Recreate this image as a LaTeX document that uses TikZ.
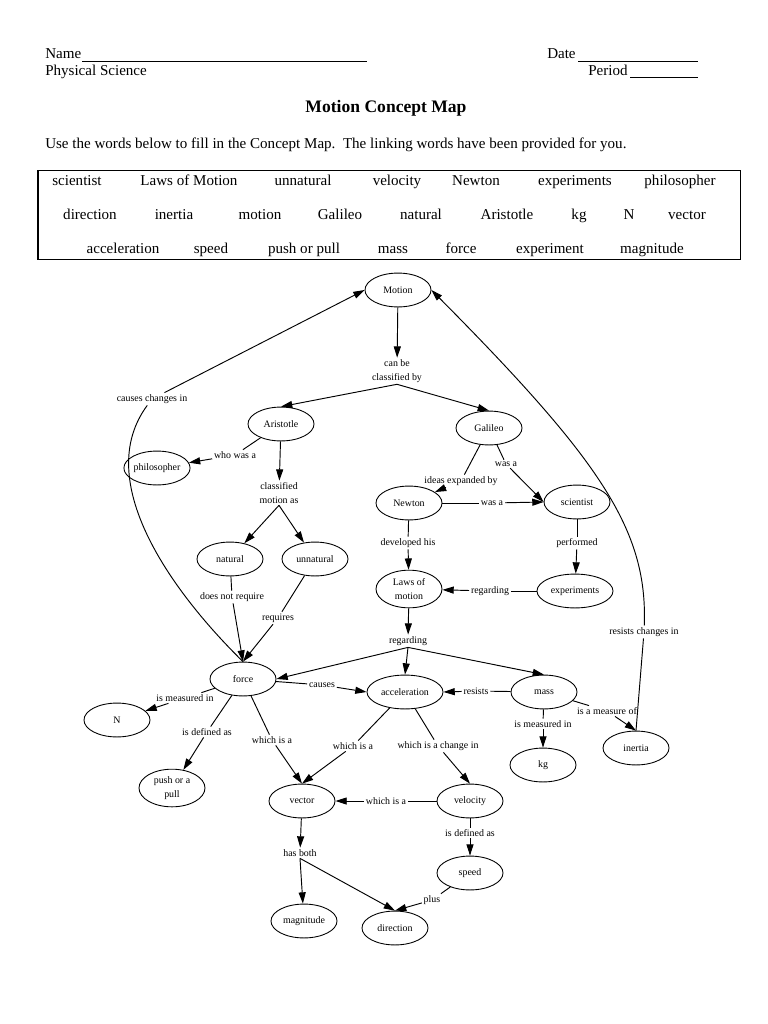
\documentclass[tikz,border=0pt]{standalone}
\usepackage{fontspec}
\setmainfont{Liberation Serif}
\usetikzlibrary{shapes.geometric,arrows.meta}
\begin{document}
\begin{tikzpicture}[x=0.797pt,y=-0.797pt,
 cn/.style={ellipse,draw,line width=0.7pt,minimum width=52.6pt,minimum height=27pt,inner sep=0pt,font=\fontsize{7.9}{11}\selectfont,align=center},
 wide/.style={minimum width=60.6pt},
 tall/.style={minimum height=30pt},
 lb/.style={inner sep=1.3pt,font=\fontsize{7.9}{11}\selectfont,align=center},
 ln/.style={line width=0.75pt},
 ar/.style={line width=0.75pt,-{Triangle[length=9pt,width=5.6pt]}},
 hd/.style={font=\fontsize{12}{14}\selectfont,inner sep=0pt,anchor=base west},
 wd/.style={font=\fontsize{12}{14}\selectfont,inner sep=0pt,anchor=base},
 ul/.style={line width=0.6pt}]
\fill[white] (0,0) rectangle (768,1024);
\useasboundingbox (0,0) rectangle (768,1024);
% header
\node[hd] (name) at (45,58) {Name};
\draw[ul] (82,61) -- (367,61);
\node[hd] (phys) at (45,75) {Physical Science};
\node[hd] (date) at (547,58) {Date};
\draw[ul] (578,61) -- (698,61);
\node[hd] (period) at (588,75) {Period};
\draw[ul] (630,77) -- (698,77);
\node[font=\fontsize{14}{16}\selectfont\bfseries,anchor=base,inner sep=0pt] (title) at (386,112) {Motion Concept Map};
\node[hd] (instr) at (45,148) {Use the words below to fill in the Concept Map.\hspace{0.5em}The linking words have been provided for you.};
% word box
\draw[line width=0.8pt] (38,170) rectangle (740,259);
\node[wd] (w1) at (77,185) {scientist};
\node[wd] (w2) at (189,185) {Laws of Motion};
\node[wd] (w3) at (303,185) {unnatural};
\node[wd] (w4) at (397,185) {velocity};
\node[wd] (w5) at (476,185) {Newton};
\node[wd] (w6) at (575,185) {experiments};
\node[wd] (w7) at (680,185) {philosopher};
\node[wd] (w8) at (90,219) {direction};
\node[wd] (w9) at (174,219) {inertia};
\node[wd] (w10) at (260,219) {motion};
\node[wd] (w11) at (340,219) {Galileo};
\node[wd] (w12) at (421,219) {natural};
\node[wd] (w13) at (507,219) {Aristotle};
\node[wd] (w14) at (579,219) {kg};
\node[wd] (w15) at (629,219) {N};
\node[wd] (w16) at (687,219) {vector};
\node[wd] (w17) at (123,253) {acceleration};
\node[wd] (w18) at (211,253) {speed};
\node[wd] (w19) at (304,253) {push or pull};
\node[wd] (w20) at (393,253) {mass};
\node[wd] (w21) at (461,253) {force};
\node[wd] (w22) at (550,253) {experiment};
\node[wd] (w23) at (652,253) {magnitude};
% concept nodes
\node[cn] (motion) at (398,290) {Motion};
\node[cn] (aristotle) at (281,424) {Aristotle};
\node[cn] (galileo) at (489,428) {Galileo};
\node[cn] (philosopher) at (157,468) {philosopher};
\node[cn] (newton) at (409,503) {Newton};
\node[cn] (scientist) at (577,502) {scientist};
\node[cn] (natural) at (230,559) {natural};
\node[cn] (unnatural) at (315,559) {unnatural};
\node[cn,tall] (laws) at (409,589) {Laws of\\motion};
\node[cn,wide] (experiments) at (575,591) {experiments};
\node[cn] (force) at (243,679) {force};
\node[cn,wide] (acceleration) at (405,692) {acceleration};
\node[cn] (mass) at (544,692) {mass};
\node[cn] (N) at (117,720) {N};
\node[cn] (kg) at (543,765) {kg};
\node[cn] (inertia) at (636,748) {inertia};
\node[cn,tall] (pushpull) at (172,788) {push or a\\pull};
\node[cn] (vector) at (302,801) {vector};
\node[cn] (velocity) at (470,801) {velocity};
\node[cn] (speed) at (470,873) {speed};
\node[cn] (magnitude) at (304,921) {magnitude};
\node[cn] (direction) at (395,928) {direction};
% linking labels
\node[lb] (lcause) at (152,399) {causes changes in};
\node[lb] (lclass) at (397,371) {can be\\classified by};
\node[lb] (lwho) at (235,455) {who was a};
\node[lb] (lcm) at (279,493) {classified\\motion as};
\node[lb] (lideas) at (461,481) {ideas expanded by};
\node[lb] (lwasg) at (506,464) {was a};
\node[lb] (lwasn) at (492,503) {was a};
\node[lb] (ldev) at (408,543) {developed his};
\node[lb] (lperf) at (577,543) {performed};
\node[lb] (lregexp) at (490,591) {regarding};
\node[lb] (lnot) at (232,597) {does not require};
\node[lb] (lreq) at (278,618) {requires};
\node[lb] (lresch) at (644,632) {resists changes in};
\node[lb] (lreg) at (408,641) {regarding};
\node[lb] (lcauses) at (322,685) {causes};
\node[lb] (lresists) at (476,691) {resists};
\node[lb] (lmeasN) at (185,698) {is measured in};
\node[lb] (lmeaskg) at (543,724) {is measured in};
\node[lb] (lmeasof) at (607,711) {is a measure of};
\node[lb] (ldefF) at (207,732) {is defined as};
\node[lb] (lwhichF) at (272,740) {which is a};
\node[lb] (lwhichA) at (353,746) {which is a};
\node[lb] (lchange) at (438,746) {which is a change in};
\node[lb] (lwhichV) at (386,801) {which is a};
\node[lb] (ldefV) at (470,833) {is defined as};
\node[lb] (lboth) at (300,853) {has both};
\node[lb] (lplus) at (432,900) {plus};
% connectors
\draw[ar] (motion) -- (lclass);
\draw[ar] (lclass.south) -- (aristotle.north);
\draw[ar] (lclass.south) -- (galileo.north);
\draw[ln] (aristotle) -- (lwho);
\draw[ar] (lwho) -- (philosopher);
\draw[ar] (aristotle) -- (lcm);
\draw[ar] (lcm.south) -- (natural);
\draw[ar] (lcm.south) -- (unnatural);
\draw[ln] (natural) -- (lnot);
\draw[ar] (lnot) -- (force.north);
\draw[ln] (unnatural) -- (lreq);
\draw[ar] (lreq) -- (force.north);
\draw[ln] (force.north) .. controls (170,590) and (92,480) .. (lcause);
\draw[ar] (lcause) -- (motion.west);
\draw[ln] (galileo) -- (lideas);
\draw[ar] (lideas) -- (newton);
\draw[ln] (galileo) -- (lwasg);
\draw[ar] (lwasg) -- (scientist.west);
\draw[ln] (newton) -- (lwasn);
\draw[ar] (lwasn) -- (scientist.west);
\draw[ln] (newton) -- (ldev);
\draw[ar] (ldev) -- (laws);
\draw[ln] (scientist) -- (lperf);
\draw[ar] (lperf) -- (experiments);
\draw[ln] (experiments) -- (lregexp);
\draw[ar] (lregexp) -- (laws);
\draw[ar] (laws) -- (lreg);
\draw[ar] (lreg.south) -- (force.east);
\draw[ar] (lreg.south) -- (acceleration.north);
\draw[ar] (lreg.south) -- (mass.north);
\draw[ln] (force) -- (lcauses);
\draw[ar] (lcauses) -- (acceleration.west);
\draw[ln] (mass) -- (lresists);
\draw[ar] (lresists) -- (acceleration.east);
\draw[ln] (mass) -- (lmeaskg);
\draw[ar] (lmeaskg) -- (kg);
\draw[ln] (mass) -- (lmeasof);
\draw[ar] (lmeasof) -- (inertia.north);
\draw[ln] (inertia.north) -- (lresch);
\draw[ar] (lresch) .. controls (648,530) and (600,460) .. (motion.east);
\draw[ln] (force) -- (lmeasN);
\draw[ar] (lmeasN) -- (N);
\draw[ln] (force) -- (ldefF);
\draw[ar] (ldefF) -- (pushpull);
\draw[ln] (force) -- (lwhichF);
\draw[ar] (lwhichF) -- (vector.north);
\draw[ln] (acceleration) -- (lwhichA);
\draw[ar] (lwhichA) -- (vector.north);
\draw[ln] (acceleration) -- (lchange);
\draw[ar] (lchange) -- (velocity.north);
\draw[ln] (velocity) -- (lwhichV);
\draw[ar] (lwhichV) -- (vector.east);
\draw[ln] (velocity) -- (ldefV);
\draw[ar] (ldefV) -- (speed);
\draw[ar] (vector) -- (lboth);
\draw[ar] (lboth.south) -- (magnitude);
\draw[ar] (lboth.south) -- (direction.north);
\draw[ln] (speed) -- (lplus);
\draw[ar] (lplus) -- (direction.north);
\end{tikzpicture}
\end{document}
